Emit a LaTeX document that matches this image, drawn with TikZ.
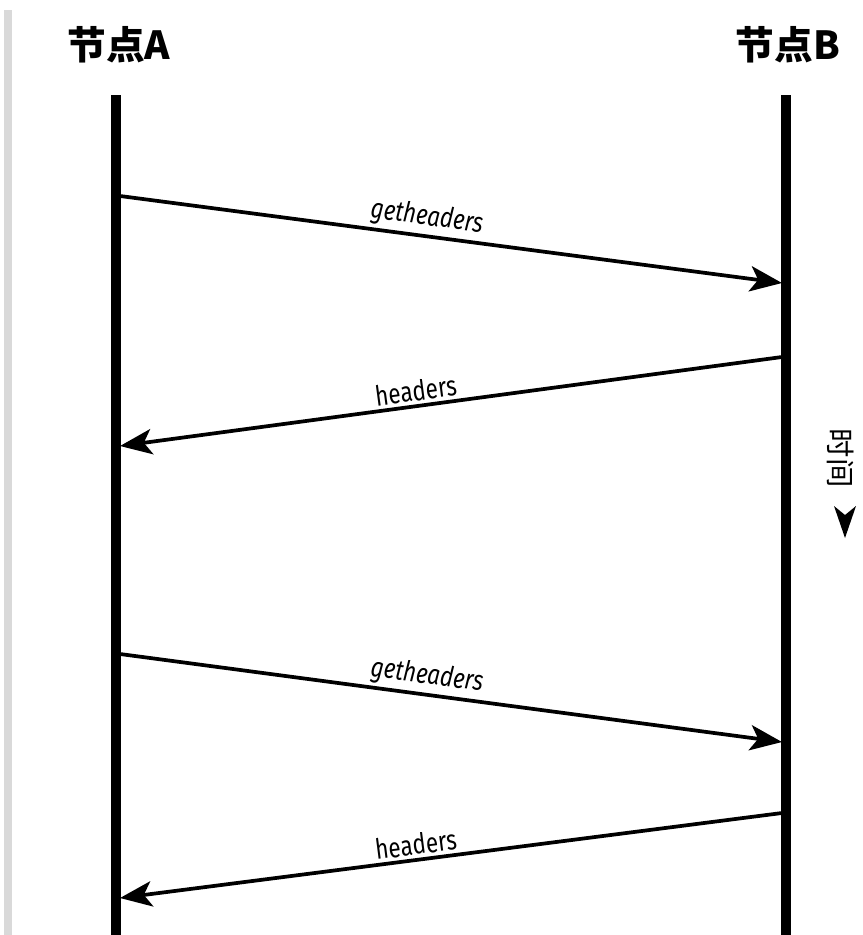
\documentclass[tikz,border=0pt]{standalone}
\usepackage{fontspec}
\usepackage{tikz}
\usetikzlibrary{arrows.meta}
\newfontfamily\cjk{Noto Sans CJK SC}
\newfontfamily\lblfont{Fira Sans}[FakeStretch=0.8]

\tikzset{
    lifeline/.style={line width=7.5pt},
    msg/.style={line width=2.8pt, -{Stealth[length=24pt, width=19pt, inset=6pt]}},
    msglabel/.style={font=\lblfont\fontsize{21}{21}\selectfont, above=-1pt, sloped},
    head/.style={font=\cjk\bfseries\fontsize{29}{29}\selectfont},
}

\begin{document}
\begin{tikzpicture}[x=0.75pt, y=-0.75pt]
        \useasboundingbox (0,0) rectangle (863,935);
        \fill[gray!30] (4,10) rectangle (12,935);

        \node[head] (na) at (119,45) {节点A};
        \node[head] (nb) at (788,45) {节点B};

        \coordinate (atop) at (116,95);
        \coordinate (abot) at (116,935);
        \coordinate (btop) at (786,95);
        \coordinate (bbot) at (786,935);
        \draw[lifeline] (atop) -- (abot);
        \draw[lifeline] (btop) -- (bbot);

        \coordinate (a1) at (120,196);
        \coordinate (b1) at (782,283);
        \coordinate (b2) at (782,357);
        \coordinate (a2) at (120,446);
        \coordinate (a3) at (120,654);
        \coordinate (b3) at (782,742);
        \coordinate (b4) at (782,813);
        \coordinate (a4) at (120,898);

        \draw[msg] (a1) -- node[msglabel, pos=0.46] {\itshape getheaders} (b1);
        \draw[msg] (b2) -- node[msglabel, pos=0.55] {headers} (a2);
        \draw[msg] (a3) -- node[msglabel, pos=0.46] {\itshape getheaders} (b3);
        \draw[msg] (b4) -- node[msglabel, pos=0.55] {headers} (a4);

        % time axis
        \node[font=\cjk\fontsize{22}{22}\selectfont, rotate=-90] (time) at (841,458) {时间};
        \fill (834,506) -- (845,538) -- (856,506) -- (845,515) -- cycle;
\end{tikzpicture}
\end{document}
